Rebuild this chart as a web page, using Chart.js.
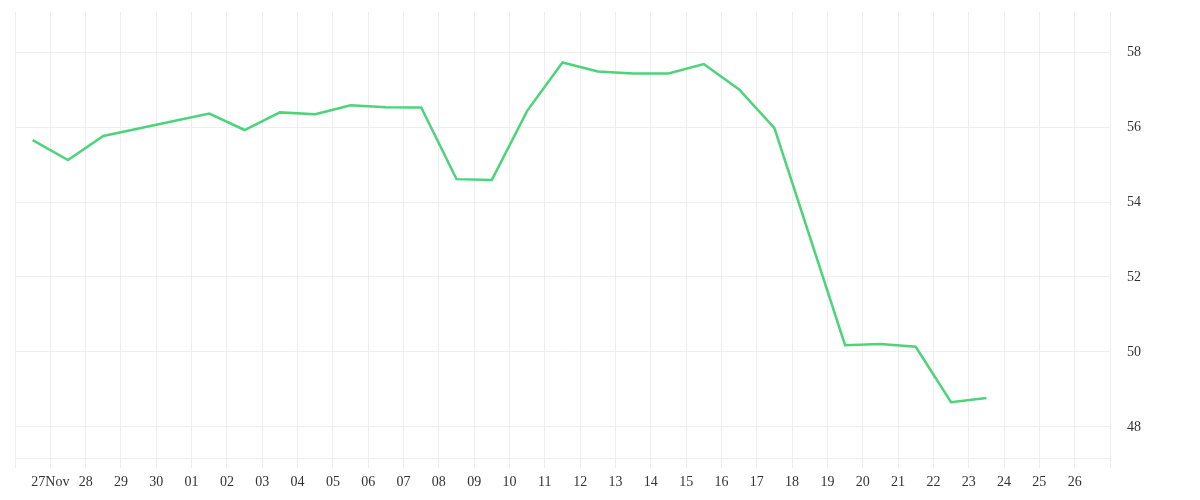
<!DOCTYPE html>
<html lang="en">
<head>
  <meta charset="UTF-8" />
  <title>Line chart</title>
  <script src="https://cdn.jsdelivr.net/npm/chart.js"></script>
  <style>
    html, body {
      margin: 0;
      padding: 0;
      background: #ffffff;
    }
    #wrap {
      position: relative;
      width: 1200px;
      height: 500px;
    }
  </style>
</head>
<body>
<div id="wrap">
  <canvas id="myChart"></canvas>
</div>

<script>
  // x tick labels, one per day (27 Nov .. 26 Dec)
  const dayLabels = ['27Nov', '28', '29', '30', '01', '02', '03', '04', '05', '06',
    '07', '08', '09', '10', '11', '12', '13', '14', '15', '16',
    '17', '18', '19', '20', '21', '22', '23', '24', '25', '26'];

  // one reading per day, sitting half way between the day ticks
  const values = [55.65, 55.12, 55.76, 55.96, 56.16, 56.36, 55.92, 56.39, 56.34, 56.58,
    56.53, 56.52, 54.61, 54.59, 56.43, 57.72, 57.48, 57.43, 57.43, 57.68,
    57.00, 55.97, 53.08, 50.18, 50.21, 50.14, 48.66, 48.77];

  const yTicks = [48, 50, 52, 54, 56, 58];

  const gridColor = '#eeeeee';
  const textFont = { family: "'Liberation Serif', serif", size: 14 };

  const points = values.map((v, i) => ({ x: i - 0.5, y: v }));

  const xTickValues = [];
  for (let d = -1; d <= dayLabels.length; d++) xTickValues.push(d);

  const ctx = document.getElementById('myChart').getContext('2d');
  new Chart(ctx, {
    type: 'line',
    data: {
      datasets: [{
        data: points,
        borderColor: '#4cd47b',
        borderWidth: 2.5,
        pointRadius: 0,
        tension: 0,
        fill: false
      }]
    },
    options: {
      responsive: true,
      maintainAspectRatio: false,
      animation: false,
      layout: { padding: { top: 12, left: 15, right: 0, bottom: 0 } },
      plugins: {
        legend: { display: false },
        tooltip: { enabled: false }
      },
      scales: {
        x: {
          type: 'linear',
          min: -1,
          max: dayLabels.length,
          afterBuildTicks: axis => { axis.ticks = xTickValues.map(v => ({ value: v })); },
          afterFit: axis => {
            axis.height = 42;
            axis.paddingLeft = 0;
            axis.paddingRight = 0;
          },
          grid: { color: gridColor, tickLength: 10, tickColor: gridColor },
          border: { color: gridColor },
          ticks: {
            autoSkip: false,
            maxRotation: 0,
            padding: 6,
            color: '#333',
            font: textFont,
            callback: value => dayLabels[value] !== undefined ? dayLabels[value] : ''
          }
        },
        y: {
          position: 'right',
          min: 47.173,
          max: 59.067,
          afterBuildTicks: axis => { axis.ticks = yTicks.map(v => ({ value: v })); },
          afterFit: axis => {
            axis.width = 90;
            axis.paddingTop = 0;
            axis.paddingBottom = 0;
          },
          grid: { color: gridColor, drawTicks: false },
          border: { color: gridColor },
          ticks: {
            padding: 17,
            color: '#333',
            font: textFont
          }
        }
      }
    }
  });
</script>
</body>
</html>
